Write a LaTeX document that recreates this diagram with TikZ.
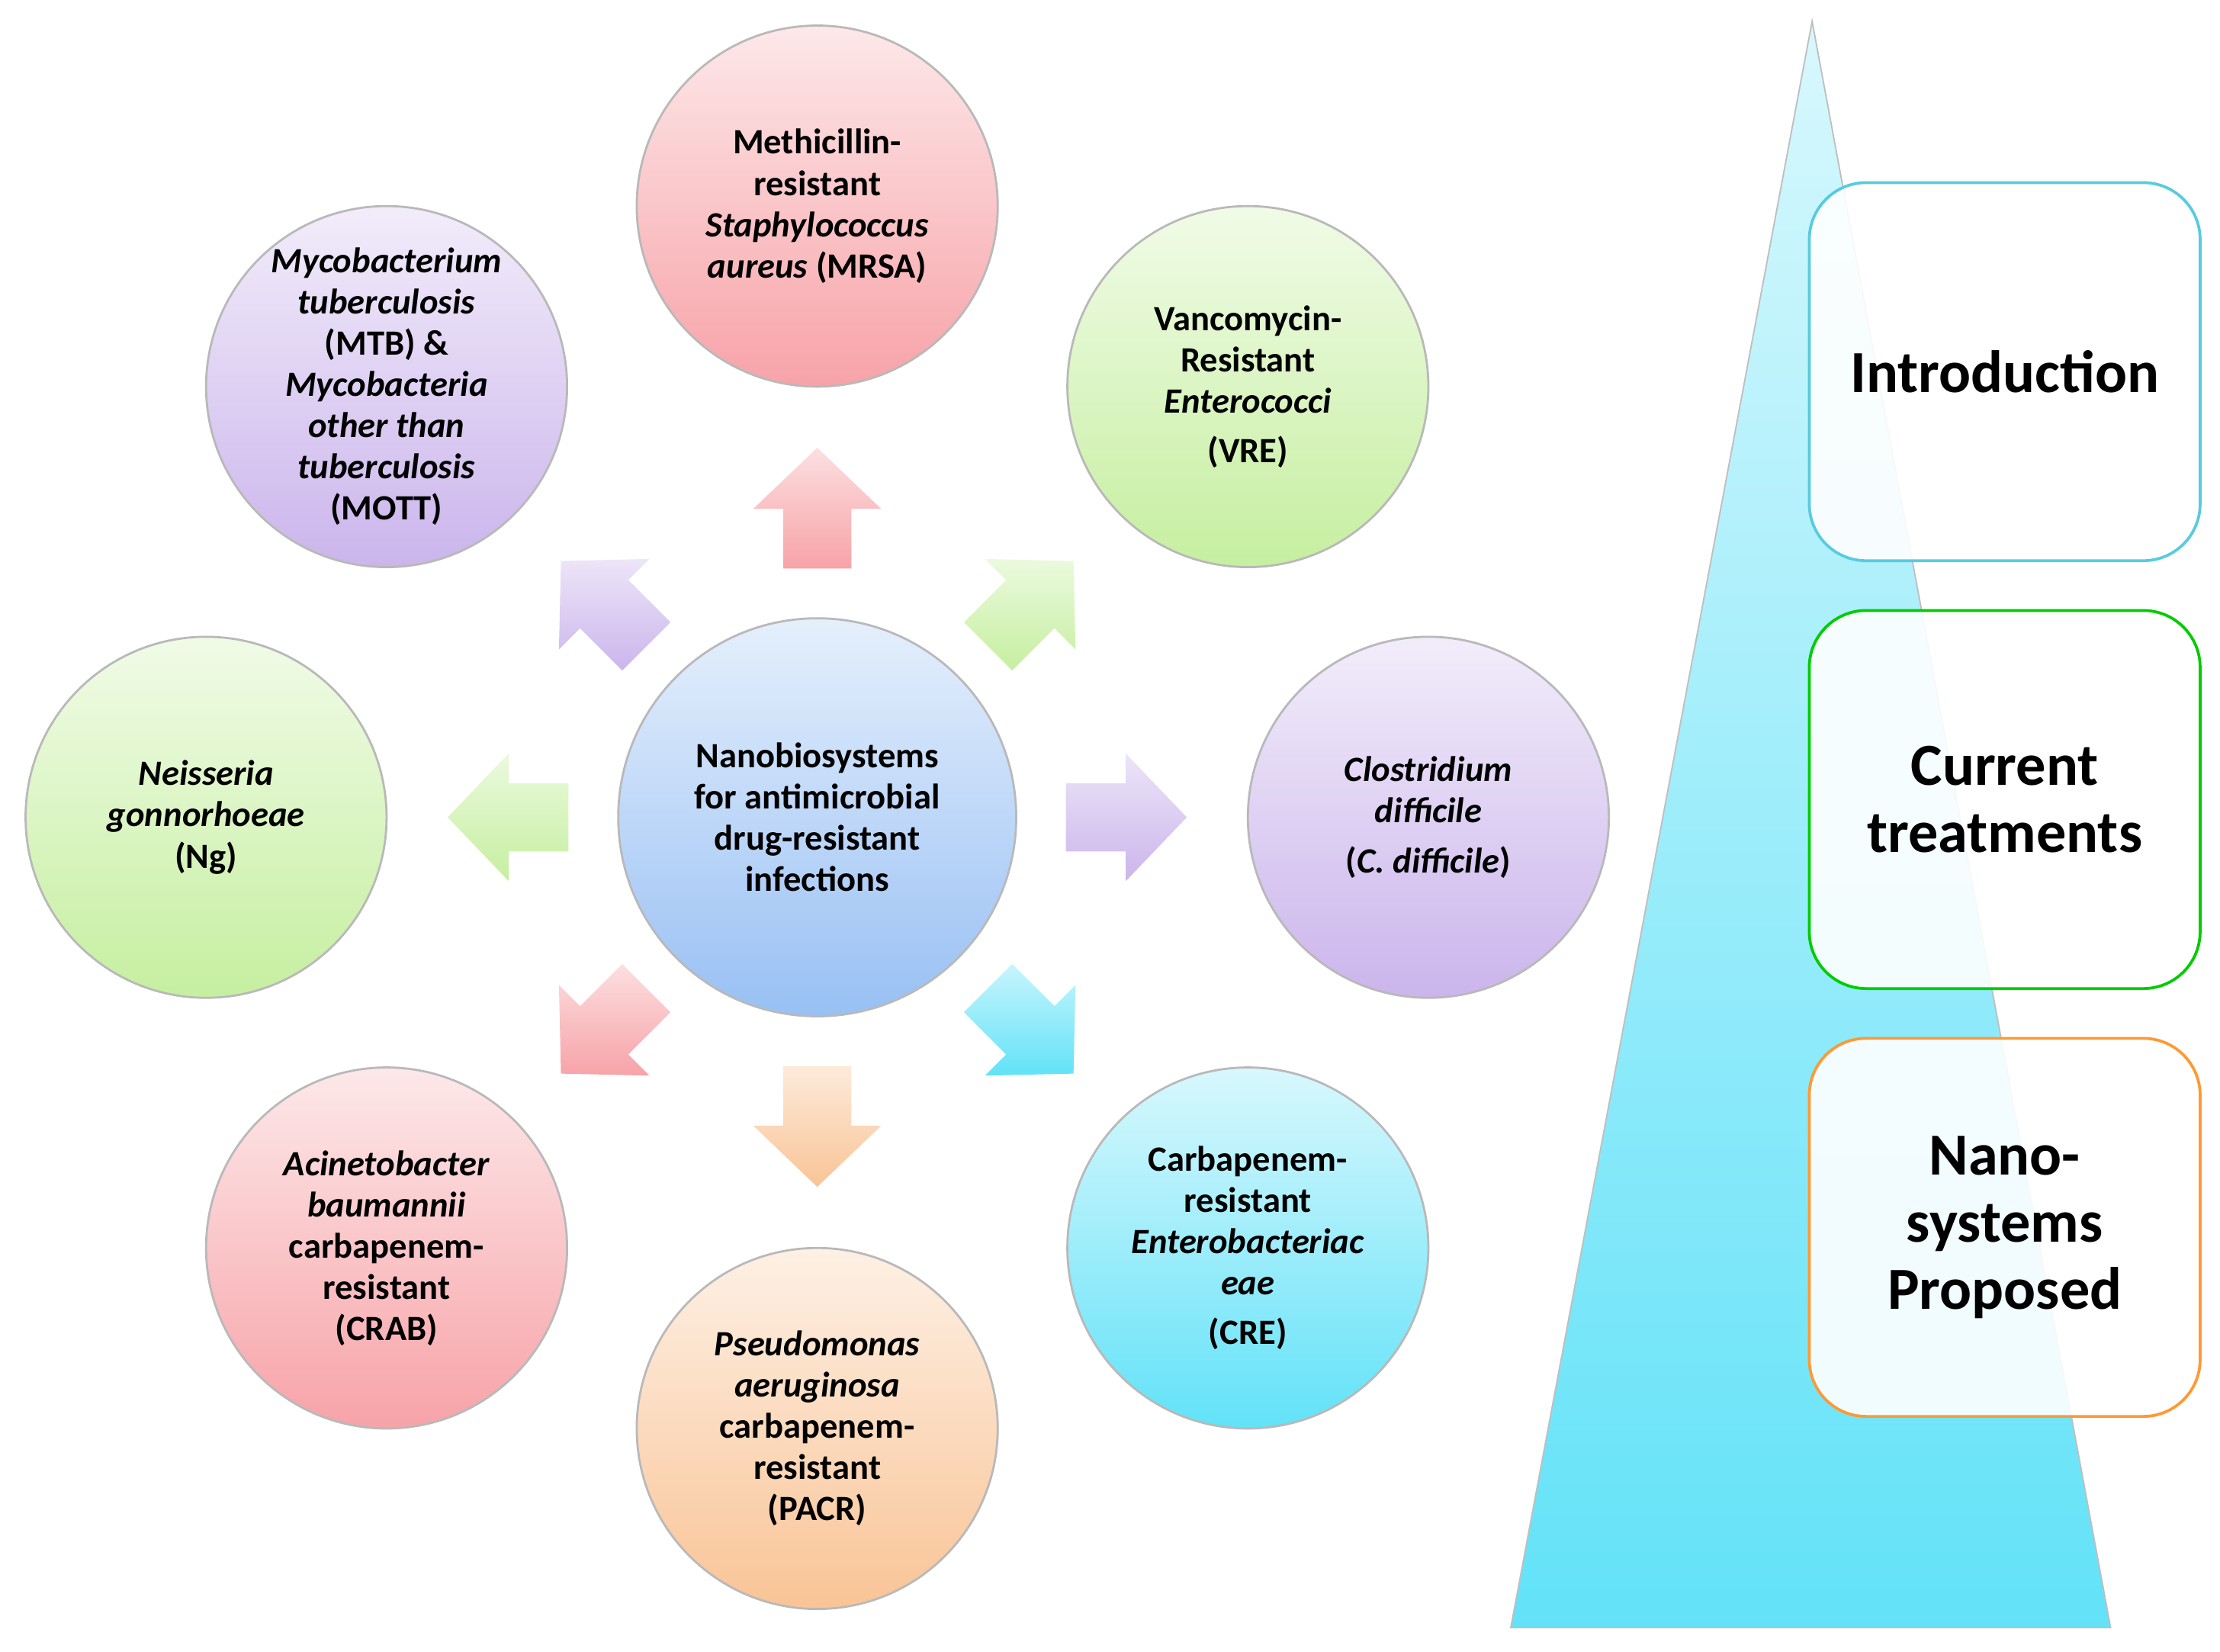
\documentclass[tikz,border=0pt]{standalone}
\usepackage{fontspec}
\setmainfont{Carlito}
\usetikzlibrary{calc}
\definecolor{cpink}{HTML}{F7A3A8}
\definecolor{cgreen}{HTML}{C6EFA0}
\definecolor{cpurp}{HTML}{CBB5EC}
\definecolor{ccyan}{HTML}{62E2F8}
\definecolor{corange}{HTML}{F9C496}
\definecolor{cblue}{HTML}{98C0F4}
\tikzset{
  x=1pt,y=1pt,
  circ/.style={circle,minimum size=254,inner sep=0pt,
    draw=gray!55,line width=1.5,top color=#1!25,bottom color=#1},
  txt/.style={align=center,inner sep=0pt,font=\fontsize{25}{29}\selectfont\bfseries},
  box/.style={draw=#1,line width=2,rounded corners=40,fill=white,fill opacity=0.9,text opacity=1,
    minimum width=275,minimum height=266,align=center,font=\fontsize{42}{47}\selectfont\bfseries},
  pics/blk/.style={code={\shade[top color=#1!35,bottom color=#1]
    (-24,-42)--(24,-42)--(24,0)--(45,0)--(0,43)--(-45,0)--(-24,0)--cycle;}}
}
\begin{document}
\begin{tikzpicture}
\useasboundingbox (0,0) rectangle (1562,1162);
% triangle
\shade[top color=ccyan!25,bottom color=ccyan,draw=gray!50,line width=1] (1275,1147)--(1485,17)--(1063,17)--cycle;
\node[box=ccyan!90!black] (intro) at (1410.5,900.5) {Introduction};
\node[box=green!80!black] (curr) at (1410.5,599.5) {Current\\treatments};
\node[box=orange!80] (nano) at (1410.5,298.5) {Nano-\\systems\\Proposed};
% center
\node[circ=cblue,minimum size=280] (c) at (575,587) {};
\node[txt] (ct) at (c) {Nanobiosystems\\for antimicrobial\\drug-resistant\\infections};
% arrows
\pic[rotate=0] at ([shift={(90:217)}]c.center) {blk=cpink};
\pic[rotate=-45] at ([shift={(45:212)}]c.center) {blk=cgreen};
\pic[rotate=-90] at ([shift={(0:217)}]c.center) {blk=cpurp};
\pic[rotate=-135] at ([shift={(-45:212)}]c.center) {blk=ccyan};
\pic[rotate=180] at ([shift={(-90:217)}]c.center) {blk=corange};
\pic[rotate=135] at ([shift={(-135:212)}]c.center) {blk=cpink};
\pic[rotate=90] at ([shift={(180:217)}]c.center) {blk=cgreen};
\pic[rotate=45] at ([shift={(135:212)}]c.center) {blk=cpurp};
% circles
\node[circ=cpink] (mrsa) at (575,1017) {};
\node[txt] at (mrsa) {Methicillin-\\resistant\\\textit{Staphylococcus}\\\textit{aureus} (MRSA)};
\node[circ=cgreen] (vre) at (878,890) {};
\node[txt] at (vre) {Vancomycin-\\Resistant\\\textit{Enterococci}\\[6pt](VRE)};
\node[circ=cpurp] (cd) at (1005,587) {};
\node[txt] at (cd) {\textit{Clostridium}\\\textit{difficile}\\[6pt](\textit{C. difficile})};
\node[circ=ccyan] (cre) at (878,284) {};
\node[txt] at (cre) {Carbapenem-\\resistant\\\textit{Enterobacteriac}\\\textit{eae}\\[6pt](CRE)};
\node[circ=corange] (pacr) at (575,157) {};
\node[txt] at (pacr) {\textit{Pseudomonas}\\\textit{aeruginosa}\\carbapenem-\\resistant\\(PACR)};
\node[circ=cpink] (crab) at (272,284) {};
\node[txt] at (crab) {\textit{Acinetobacter}\\\textit{baumannii}\\carbapenem-\\resistant\\(CRAB)};
\node[circ=cgreen] (ng) at (145,587) {};
\node[txt] at (ng) {\textit{Neisseria}\\\textit{gonnorhoeae}\\(Ng)};
\node[circ=cpurp] (mtb) at (272,890) {};
\node[txt] at (mtb) {\textit{Mycobacterium}\\\textit{tuberculosis}\\(MTB) \&\\\textit{Mycobacteria}\\\textit{other than}\\\textit{tuberculosis}\\(MOTT)};
\end{tikzpicture}
\end{document}
